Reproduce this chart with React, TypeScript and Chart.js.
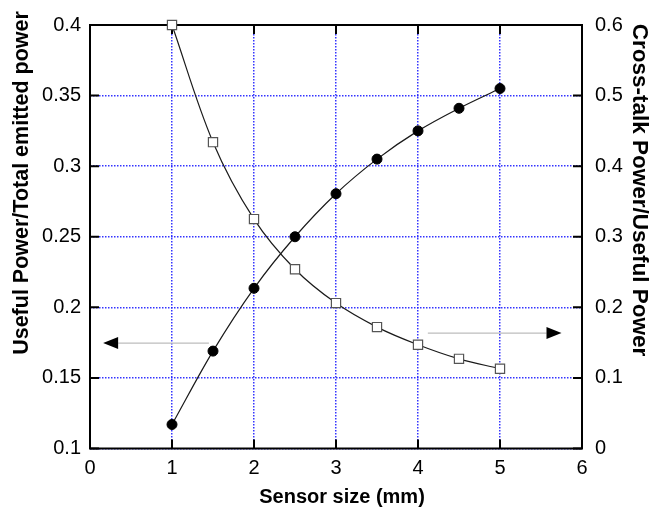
import React, { useEffect, useRef } from 'react';
import { Chart, registerables } from 'chart.js';

Chart.register(...registerables);

const sensorSizes = [1, 1.5, 2, 2.5, 3, 3.5, 4, 4.5, 5];
const usefulRatio = [0.117, 0.169, 0.2135, 0.25, 0.2805, 0.305, 0.325, 0.341, 0.355];
const crossTalkRatio = [0.6, 0.434, 0.325, 0.254, 0.206, 0.172, 0.147, 0.127, 0.113];

const xTickLabels = ['0', '1', '2', '3', '4', '5', '6'];
const leftTickLabels = ['0.1', '0.15', '0.2', '0.25', '0.3', '0.35', '0.4'];
const rightTickLabels = ['0', '0.1', '0.2', '0.3', '0.4', '0.5', '0.6'];

const xTitle = 'Sensor size (mm)';
const leftTitle = 'Useful Power/Total emitted power';
const rightTitle = 'Cross-talk Power/Useful Power';

// annotation arrows in data units (axis id, tail x, head x, y value)
const arrowAxes = ['y', 'y1'];
const arrowTailX = [1.45, 4.12];
const arrowHeadX = [0.16, 5.75];
const arrowY = [0.1747, 0.1635];

const FONT = '"Liberation Sans", Arial, Helvetica, sans-serif';
const GRID = 'rgba(30,30,255,0.9)';

const framePlugin = {
  id: 'frame',
  beforeDatasetsDraw(chart: any) {
    const { ctx, chartArea: a, scales } = chart;
    ctx.save();
    // inward tick marks
    ctx.strokeStyle = '#000';
    ctx.lineWidth = 2;
    const tl = 9;
    ctx.beginPath();
    scales.x.ticks.forEach((t: any) => {
      const px = scales.x.getPixelForValue(t.value);
      ctx.moveTo(px, a.bottom);
      ctx.lineTo(px, a.bottom - tl);
      ctx.moveTo(px, a.top);
      ctx.lineTo(px, a.top + tl);
    });
    scales.y.ticks.forEach((t: any) => {
      const py = scales.y.getPixelForValue(t.value);
      ctx.moveTo(a.left, py);
      ctx.lineTo(a.left + tl, py);
    });
    scales.y1.ticks.forEach((t: any) => {
      const py = scales.y1.getPixelForValue(t.value);
      ctx.moveTo(a.right, py);
      ctx.lineTo(a.right - tl, py);
    });
    ctx.stroke();
    ctx.strokeRect(a.left, a.top, a.right - a.left, a.bottom - a.top);

    // arrows
    for (let i = 0; i < arrowAxes.length; i++) {
      const ys = scales[arrowAxes[i]];
      const py = ys.getPixelForValue(arrowY[i]);
      const x0 = scales.x.getPixelForValue(arrowTailX[i]);
      const x1 = scales.x.getPixelForValue(arrowHeadX[i]);
      const dir = Math.sign(x1 - x0);
      const hl = 15;
      const hw = 6;
      ctx.strokeStyle = '#bdbdbd';
      ctx.lineWidth = 1.2;
      ctx.beginPath();
      ctx.moveTo(x0, py);
      ctx.lineTo(x1 - dir * hl, py);
      ctx.stroke();
      ctx.fillStyle = '#000';
      ctx.beginPath();
      ctx.moveTo(x1, py);
      ctx.lineTo(x1 - dir * hl, py - hw);
      ctx.lineTo(x1 - dir * hl, py + hw);
      ctx.closePath();
      ctx.fill();
    }
    ctx.restore();
  },
  afterDraw(chart: any) {
    const { ctx, chartArea: a } = chart;
    ctx.save();
    ctx.fillStyle = '#000';
    ctx.textAlign = 'center';
    ctx.textBaseline = 'alphabetic';
    ctx.font = `bold 20px ${FONT}`;
    ctx.fillText(xTitle, (a.left + a.right) / 2 + 6, 503);

    ctx.save();
    ctx.translate(27.5, 183);
    ctx.rotate(-Math.PI / 2);
    ctx.font = `bold 21.5px ${FONT}`;
    ctx.fillText(leftTitle, 0, 0);
    ctx.restore();

    ctx.save();
    ctx.translate(633, 190);
    ctx.rotate(Math.PI / 2);
    ctx.font = `bold 22.5px ${FONT}`;
    ctx.fillText(rightTitle, 0, 0);
    ctx.restore();
    ctx.restore();
  },
};

export default function App() {
  const ref = useRef<HTMLCanvasElement | null>(null);

  useEffect(() => {
    if (!ref.current) return;
    const tickFont = { family: FONT, size: 20 };
    const chart = new Chart(ref.current, {
      type: 'line',
      data: {
        datasets: [
          {
            label: leftTitle,
            data: sensorSizes.map((x, i) => ({ x, y: usefulRatio[i] })),
            yAxisID: 'y',
            borderColor: '#1a1a1a',
            borderWidth: 1.2,
            tension: 0.35,
            pointStyle: 'circle',
            pointRadius: 5,
            pointBackgroundColor: '#000',
            pointBorderColor: '#000',
            pointBorderWidth: 1,
            fill: false,
            clip: false,
          },
          {
            label: rightTitle,
            data: sensorSizes.map((x, i) => ({ x, y: crossTalkRatio[i] })),
            yAxisID: 'y1',
            borderColor: '#1a1a1a',
            borderWidth: 1.2,
            tension: 0.35,
            pointStyle: 'rect',
            pointRadius: 6.5,
            pointBackgroundColor: '#fff',
            pointBorderColor: '#555',
            pointBorderWidth: 1.2,
            fill: false,
            clip: false,
          },
        ],
      },
      options: {
        animation: false,
        responsive: false,
        layout: { padding: { top: 23.5, left: 0, right: 0, bottom: 0 } },
        plugins: { legend: { display: false }, tooltip: { enabled: false } },
        scales: {
          x: {
            type: 'linear',
            min: 0,
            max: 6,
            ticks: {
              stepSize: 1,
              color: '#000',
              font: tickFont,
              padding: 8,
              maxRotation: 0,
              callback: (v: any) => xTickLabels[Math.round(Number(v))],
            },
            grid: { color: GRID, lineWidth: 1.5, drawTicks: false },
            border: { display: false, dash: [1.5, 1.5] },
            afterFit: (s: any) => {
              s.height = 64.5;
            },
          },
          y: {
            type: 'linear',
            position: 'left',
            min: 0.1,
            max: 0.4,
            ticks: {
              stepSize: 0.05,
              color: '#000',
              font: tickFont,
              padding: 9,
              callback: (v: any) => leftTickLabels[Math.round((Number(v) - 0.1) / 0.05)],
            },
            grid: { color: GRID, lineWidth: 1.5, drawTicks: false },
            border: { display: false, dash: [1.5, 1.5] },
            afterFit: (s: any) => {
              s.width = 90;
            },
          },
          y1: {
            type: 'linear',
            position: 'right',
            min: 0,
            max: 0.6,
            ticks: {
              stepSize: 0.1,
              color: '#000',
              font: tickFont,
              padding: 13,
              callback: (v: any) => rightTickLabels[Math.round(Number(v) / 0.1)],
            },
            grid: { display: false, drawTicks: false },
            border: { display: false },
            afterFit: (s: any) => {
              s.width = 70;
            },
          },
        },
      },
      plugins: [framePlugin],
    } as any);
    return () => chart.destroy();
  }, []);

  return (
    <div style={{ position: 'fixed', left: 0, top: 0, width: 652, height: 513, background: '#fff' }}>
      <canvas ref={ref} width={652} height={513} style={{ display: 'block' }} />
    </div>
  );
}
